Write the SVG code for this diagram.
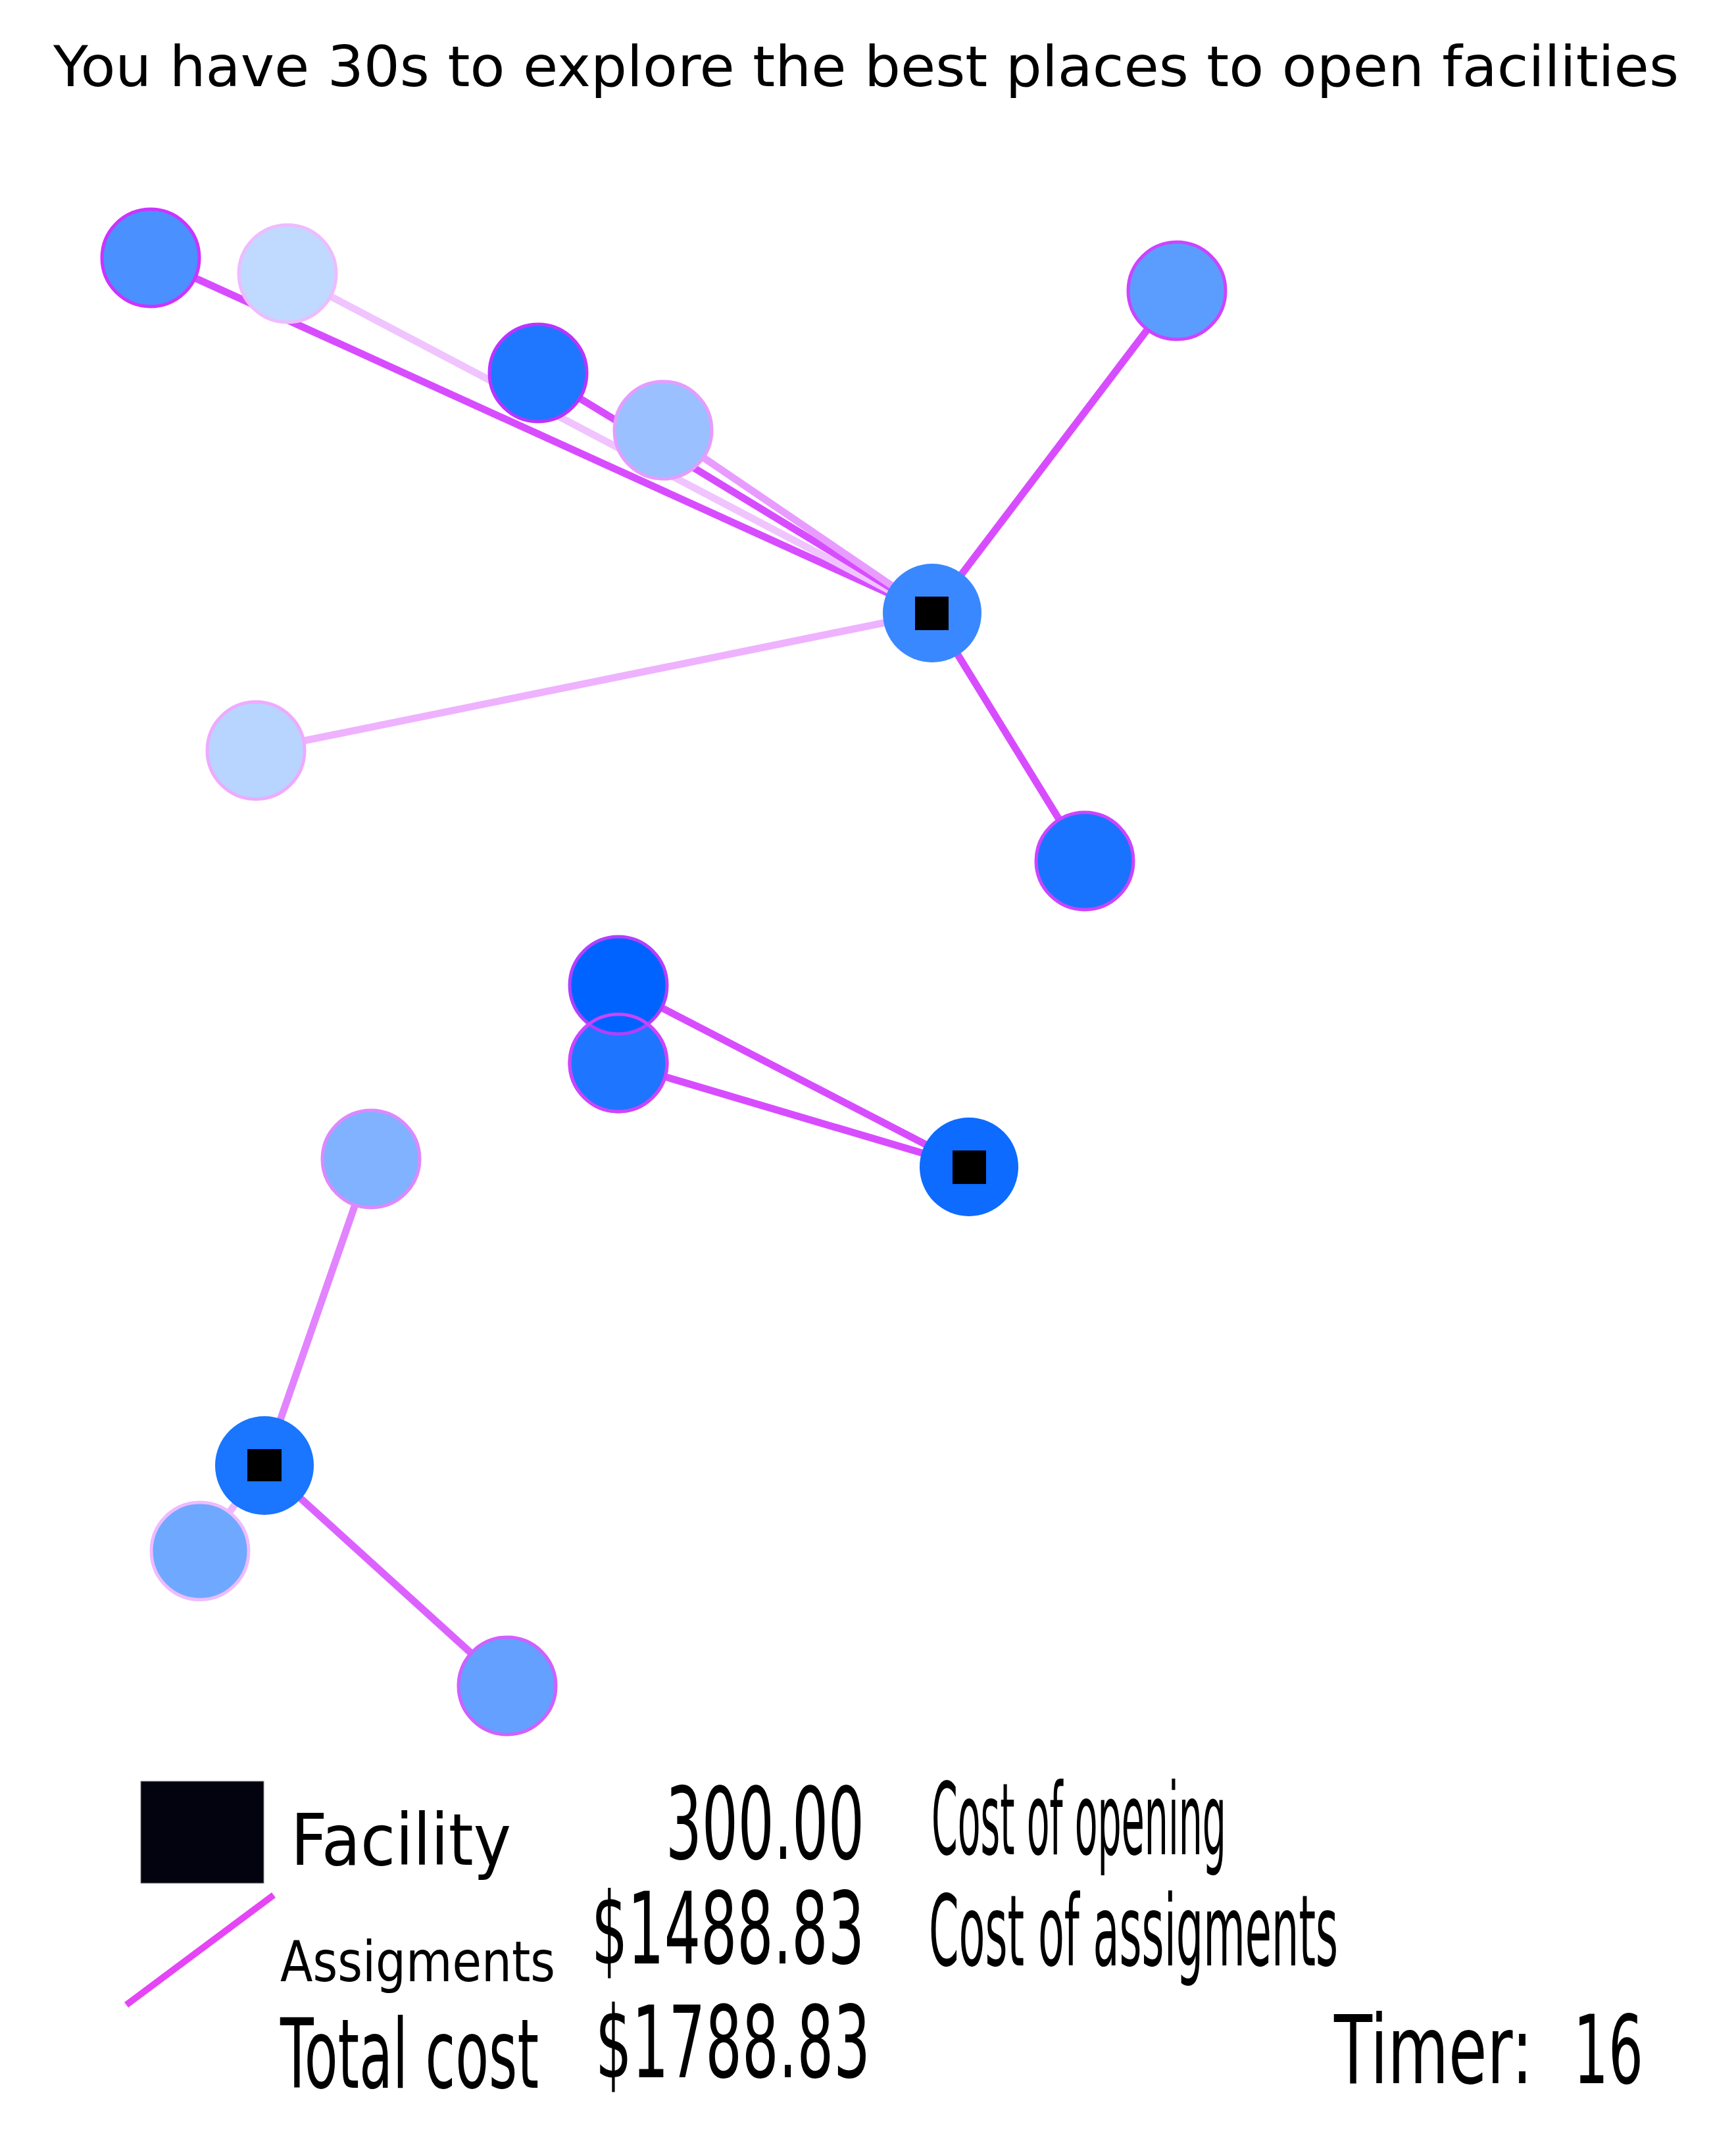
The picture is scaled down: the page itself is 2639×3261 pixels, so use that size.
<svg xmlns="http://www.w3.org/2000/svg" width="2639" height="3261" viewBox="0 0 2639 3261">
<style>
  .t { font-family: "DejaVu Sans", Verdana, sans-serif; fill: #000; }
  .c { stroke-width: 11; stroke-linecap: butt; fill: none; }
  .n { stroke-width: 5; }
  .fac { stroke: none; }
</style>
<rect x="0" y="0" width="2639" height="3261" fill="#ffffff"/>
<text class="t" x="81" y="131" font-size="86" textLength="2471" lengthAdjust="spacingAndGlyphs">You have 30s to explore the best places to open facilities</text>

<g id="connectors">
  <line class="c" x1="1417" y1="932" x2="229" y2="392" stroke="#d84cff"/>
  <line class="c" x1="1417" y1="932" x2="437" y2="416" stroke="#f0c4ff"/>
  <line class="c" x1="1417" y1="932" x2="818" y2="567" stroke="#d84cff"/>
  <line class="c" x1="1417" y1="932" x2="1008" y2="654" stroke="#e89cff"/>
  <line class="c" x1="1417" y1="932" x2="389" y2="1141" stroke="#eeb2ff"/>
  <line class="c" x1="1417" y1="932" x2="1649" y2="1309" stroke="#d84cff"/>
  <line class="c" x1="1417" y1="932" x2="1789" y2="442" stroke="#d84cff"/>
  <line class="c" x1="1473" y1="1774" x2="940" y2="1498" stroke="#d84cff"/>
  <line class="c" x1="1473" y1="1774" x2="940" y2="1616" stroke="#d84cff"/>
  <line class="c" x1="402" y1="2228" x2="564" y2="1762" stroke="#e283ff"/>
  <line class="c" x1="402" y1="2228" x2="304" y2="2358" stroke="#eeb8ff"/>
  <line class="c" x1="402" y1="2228" x2="771" y2="2563" stroke="#dc62ff"/>
</g>

<g id="node1"><circle class="n" cx="229" cy="392" r="74" fill="#4a90ff" stroke="#cc33ff"/></g>
<g id="node2"><circle class="n" cx="437" cy="416" r="74" fill="#c0d9ff" stroke="#eebbff"/></g>
<g id="node3"><circle class="n" cx="818" cy="567" r="74" fill="#1f77ff" stroke="#bb33ff"/></g>
<g id="node4"><circle class="n" cx="1008" cy="654" r="74" fill="#9bc0ff" stroke="#e59cff"/></g>
<g id="node5"><circle class="n" cx="389" cy="1141" r="74" fill="#b7d5ff" stroke="#eeaaff"/></g>
<g id="node6"><circle class="n" cx="1649" cy="1309" r="74" fill="#1a73ff" stroke="#cc44ff"/></g>
<g id="node-tr"><circle class="n" cx="1789" cy="442" r="74" fill="#5b9dff" stroke="#cc44ff"/></g>
<g id="node8"><circle class="n" cx="940" cy="1616" r="74" fill="#1e75ff" stroke="#cc44ff"/></g>
<g id="node7"><circle class="n" cx="940" cy="1498" r="74" fill="#0063ff" stroke="#b040ff"/></g>
<g id="node8-outline"><circle class="n" cx="940" cy="1616" r="74" fill="none" stroke="#cc44ff"/></g>
<g id="node9"><circle class="n" cx="564" cy="1762" r="74" fill="#80b2ff" stroke="#dd88ff"/></g>
<g id="node10"><circle class="n" cx="304" cy="2358" r="74" fill="#6fa8ff" stroke="#eebbff"/></g>
<g id="node11"><circle class="n" cx="771" cy="2563" r="74" fill="#63a0ff" stroke="#d060ff"/></g>

<g id="facility1">
  <circle class="fac" cx="1417" cy="932" r="75" fill="#3a88ff"/>
  <rect x="1391" y="907" width="51" height="51" fill="#000"/>
</g>
<g id="facility2">
  <circle class="fac" cx="1473" cy="1774" r="75" fill="#0d6bff"/>
  <rect x="1448" y="1749" width="51" height="51" fill="#000"/>
</g>
<g id="facility3">
  <circle class="fac" cx="402" cy="2228" r="75" fill="#1a75ff"/>
  <rect x="376" y="2203" width="52" height="49" fill="#000"/>
</g>

<g id="legend">
  <rect x="214" y="2708" width="187" height="155" fill="#03020f" stroke="#888" stroke-width="1"/>
  <text class="t" x="442" y="2835" font-size="108" textLength="335" lengthAdjust="spacingAndGlyphs">Facility</text>
  <line x1="192" y1="3048" x2="416" y2="2881" stroke="#e545f5" stroke-width="10"/>
  <text class="t" x="426" y="3012" font-size="85" textLength="418" lengthAdjust="spacingAndGlyphs">Assigments</text>
  <text class="t" x="426" y="3174" font-size="147" textLength="393" lengthAdjust="spacingAndGlyphs">Total cost</text>
  <text class="t" x="1012" y="2826" font-size="152" textLength="302" lengthAdjust="spacingAndGlyphs">300.00</text>
  <text class="t" x="899" y="2985" font-size="152" textLength="415" lengthAdjust="spacingAndGlyphs">$1488.83</text>
  <text class="t" x="905" y="3158" font-size="152" textLength="418" lengthAdjust="spacingAndGlyphs">$1788.83</text>
  <text class="t" x="1416" y="2819" font-size="152" textLength="448" lengthAdjust="spacingAndGlyphs">Cost of opening</text>
  <text class="t" x="1412" y="2988" font-size="150" textLength="622" lengthAdjust="spacingAndGlyphs">Cost of assigments</text>
  <text class="t" x="2028" y="3167" font-size="145" textLength="302" lengthAdjust="spacingAndGlyphs">Timer:</text>
  <text class="t" x="2392" y="3167" font-size="145" textLength="106" lengthAdjust="spacingAndGlyphs">16</text>
</g>
</svg>
